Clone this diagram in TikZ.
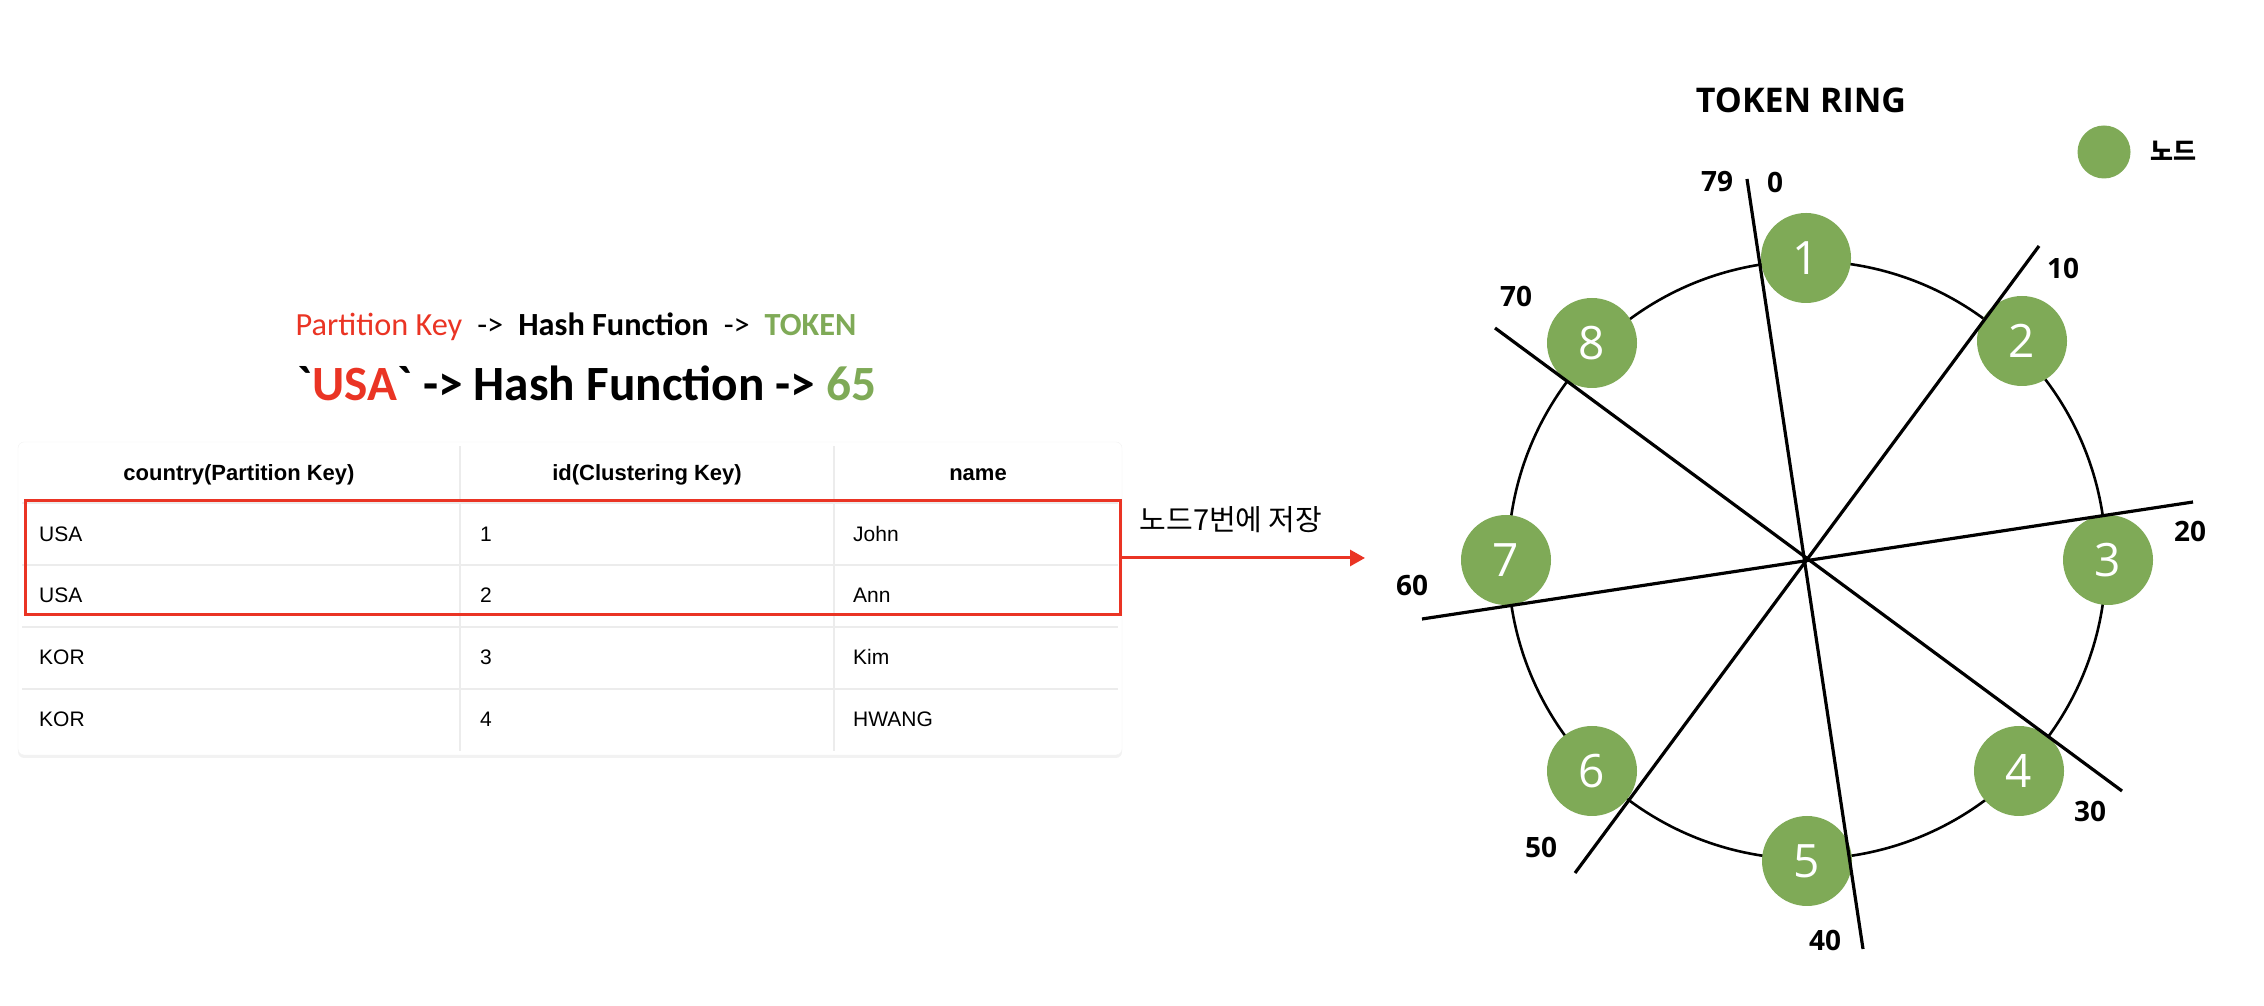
\documentclass[tikz,border=0pt]{standalone}
\usepackage{fontspec}
\usetikzlibrary{arrows.meta,shadows}
\newfontfamily\titlefont{Carlito}[Ligatures=ResetAll]
\newfontfamily\tablefont{Liberation Sans}
\newfontfamily\ringfont{Open Sans}
\newfontfamily\krfont{Noto Sans CJK KR}
\definecolor{keyred}{RGB}{234,52,36}
\definecolor{tokengreen}{RGB}{127,170,87}
\definecolor{rowrule}{RGB}{236,236,236}

\begin{document}
\begin{tikzpicture}[x=1pt, y=1pt,
    tnode/.style={circle, fill=tokengreen, minimum size=90pt, inner sep=0pt, text=white, font=\ringfont\fontsize{46}{46}\selectfont},
    tick/.style={inner sep=0pt, font=\ringfont\bfseries\fontsize{28}{28}\selectfont},
    spoke/.style={line width=3.2pt},
    head/.style={anchor=base, font=\tablefont\bfseries\fontsize{22}{22}\selectfont},
    cell/.style={anchor=base west, inner sep=0pt, font=\tablefont\fontsize{21}{21}\selectfont},
    gridline/.style={rowrule, line width=1.5pt}]
      \useasboundingbox (0,0) rectangle (2264,1006);

      \node[anchor=base, font=\titlefont\fontsize{32.3}{32.3}\selectfont] (flow) at (576,670) {\textcolor{keyred}{Partition Key}\hspace{15pt}->\hspace{15pt}\textbf{Hash Function}\hspace{15pt}->\hspace{15pt}\textcolor{tokengreen}{\textbf{TOKEN}}};
      \node[anchor=base, font=\titlefont\bfseries\fontsize{49.3}{49.3}\selectfont] (hash) at (587,605) {`\textcolor{keyred}{USA}` -> Hash Function -> \textcolor{tokengreen}{65}};

      \node[fill=white, draw=black!5, rounded corners=6pt, minimum width=1104pt, minimum height=313pt, drop shadow={opacity=0.1, shadow xshift=0pt, shadow yshift=-3pt}] (card) at (570,407.5) {};
      \draw[gridline] (460,255) -- (460,560);
      \draw[gridline] (834,255) -- (834,560);
      \draw[gridline] (22,503) -- (1118,503);
      \draw[gridline] (22,441) -- (1118,441);
      \draw[gridline] (22,379) -- (1118,379);
      \draw[gridline] (22,317) -- (1118,317);
      \node[head] (hcountry) at (239,525) {country(Partition Key)};
      \node[head] (hid) at (647,525) {id(Clustering Key)};
      \node[head] (hname) at (978,525) {name};
      \node[cell] (c11) at (39,464) {USA};
      \node[cell] (c12) at (480,464) {1};
      \node[cell] (c13) at (853,464) {John};
      \node[cell] (c21) at (39,403) {USA};
      \node[cell] (c22) at (480,403) {2};
      \node[cell] (c23) at (853,403) {Ann};
      \node[cell] (c31) at (39,341) {KOR};
      \node[cell] (c32) at (480,341) {3};
      \node[cell] (c33) at (853,341) {Kim};
      \node[cell] (c41) at (39,279) {KOR};
      \node[cell] (c42) at (480,279) {4};
      \node[cell] (c43) at (853,279) {HWANG};

      \node[draw=keyred, line width=3pt, minimum width=1095pt, minimum height=114pt, inner sep=0pt] (sel) at (572.5,448) {};
      \coordinate (ringin) at (1365,448);
      \draw[keyred, line width=3pt, -{Triangle[length=15pt,width=16pt]}] (sel.east) -- (ringin);
      \node[font=\krfont\fontsize{29}{29}\selectfont] (store) at (1231,486) {노드7번에 저장};

      \node[font=\ringfont\bfseries\fontsize{34}{34}\selectfont] (ringtitle) at (1801,906) {TOKEN RING};
      \node[circle, fill=tokengreen, minimum size=53pt, inner sep=0pt] (legend) at (2104,854) {};
      \node[anchor=west, inner sep=0pt, font=\krfont\bfseries\fontsize{25}{25}\selectfont] (legendtxt) at (2150,855) {노드};

      \coordinate (c) at (1807,446);
      \draw[line width=2.6pt] (c) circle (299pt);
      \node[tnode] (n1) at (1806,748) {1};
      \node[tnode] (n2) at (2022,665) {2};
      \node[tnode] (n3) at (2108,446) {3};
      \node[tnode] (n4) at (2019,235) {4};
      \node[tnode] (n5) at (1807,145) {5};
      \node[tnode] (n6) at (1592,235) {6};
      \node[tnode] (n7) at (1506,446) {7};
      \node[tnode] (n8) at (1592,663) {8};

      \coordinate (e0) at (1747,827);
      \coordinate (e10) at (2039,760);
      \coordinate (e20) at (2193,504);
      \coordinate (e30) at (2122,215);
      \coordinate (e40) at (1863,57);
      \coordinate (e50) at (1575,133);
      \coordinate (e60) at (1422,387);
      \coordinate (e70) at (1495,678);
      \draw[spoke] (e0) -- (e40);
      \draw[spoke] (e10) -- (e50);
      \draw[spoke] (e20) -- (e60);
      \draw[spoke] (e70) -- (e30);

      \node[tick] (t79) at (1717,824) {79};
      \node[tick] (t0) at (1775,824) {0};
      \node[tick] (t10) at (2063,738) {10};
      \node[tick] (t20) at (2190,475) {20};
      \node[tick] (t30) at (2090,195) {30};
      \node[tick] (t40) at (1825,66) {40};
      \node[tick] (t50) at (1541,159) {50};
      \node[tick] (t60) at (1412,421) {60};
      \node[tick] (t70) at (1516,710) {70};
\end{tikzpicture}
\end{document}
